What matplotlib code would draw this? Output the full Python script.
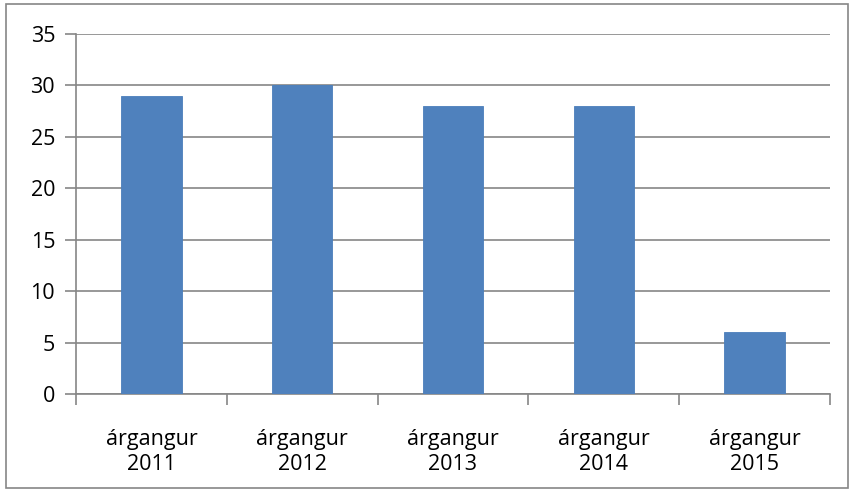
import numpy as np
import matplotlib.pyplot as plt
from matplotlib.patches import Rectangle

# DATA
categories = ['árgangur\n2011', 'árgangur\n2012', 'árgangur\n2013', 'árgangur\n2014', 'árgangur\n2015']
values = [29, 30, 28, 28, 6]

plt.rcParams['font.family'] = ['Open Sans', 'DejaVu Sans']
grid_col = '#868686'

fig = plt.figure(figsize=(8.5, 4.9), dpi=100)
ax = fig.add_axes([0.0894, 0.196, 0.887, 0.7345])

x = np.arange(len(values))
ax.bar(x, values, width=0.4, color='#4F81BD', edgecolor='#4A7EBB', linewidth=0.6, zorder=3)

ax.set_xlim(-0.5, len(values) - 0.5)
ax.set_ylim(0, 35)
ax.set_yticks(np.arange(0, 36, 5))
ax.yaxis.grid(True, color=grid_col, linewidth=1.2, zorder=0)
ax.tick_params(axis='y', length=8, width=1.2, color=grid_col, labelsize=15.5, pad=7)

# category labels, ticks at boundaries
ax.set_xticks(x)
ax.set_xticklabels(categories, fontsize=15.5, linespacing=1.3)
ax.tick_params(axis='x', length=0, pad=25)
ax.set_xticks(np.arange(-0.5, len(values), 1), minor=True)
ax.tick_params(axis='x', which='minor', length=8, width=1.2, color=grid_col)

for side in ['top', 'right']:
    ax.spines[side].set_visible(False)
for side in ['left', 'bottom']:
    ax.spines[side].set_color(grid_col)
    ax.spines[side].set_linewidth(1.2)

# outer chart border
fig.patches.append(Rectangle((0.007, 0.004), 0.991, 0.988, transform=fig.transFigure,
                             fill=False, edgecolor=grid_col, linewidth=1.2))

fig.savefig('out.png', dpi=100)
